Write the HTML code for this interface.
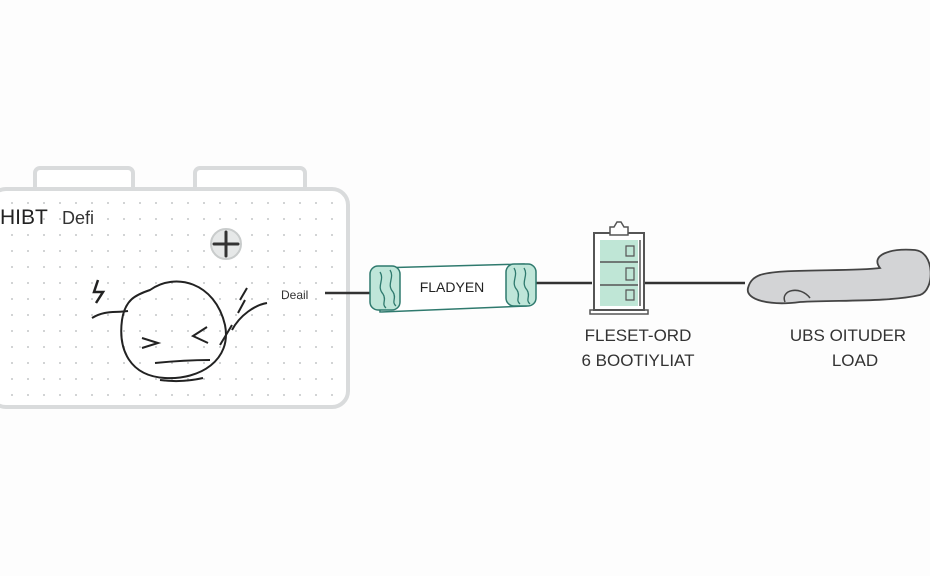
<!DOCTYPE html>
<html><head><meta charset="utf-8"><style>
html,body{margin:0;padding:0;background:#fdfdfd;}
svg{display:block}
text{font-family:"Liberation Sans",sans-serif;}
</style></head><body>
<svg width="930" height="576" viewBox="0 0 930 576" xmlns="http://www.w3.org/2000/svg">
<defs>
<pattern id="dots" x="4" y="3" width="16" height="16" patternUnits="userSpaceOnUse">
<circle cx="8" cy="8" r="1" fill="#c4c6c8"/>
</pattern>
</defs>
<rect width="930" height="576" fill="#fdfdfd"/>
<!-- battery terminals -->
<rect x="35" y="168" width="98" height="24" rx="5" fill="#fff" stroke="#d9dbdc" stroke-width="4"/>
<rect x="195" y="168" width="110" height="24" rx="5" fill="#fff" stroke="#d9dbdc" stroke-width="4"/>
<!-- battery body -->
<rect x="-10" y="189" width="358" height="218" rx="16" fill="#fff" stroke="#d9dbdc" stroke-width="4"/>
<rect x="0" y="196" width="340" height="206" fill="url(#dots)"/>
<text x="0" y="224" font-size="21" fill="#222">HIBT</text>
<text x="62" y="224" font-size="18" fill="#333">Defi</text>
<!-- plus -->
<circle cx="226" cy="244" r="15" fill="#e6e8e8" stroke="#c9cccc" stroke-width="2"/>
<path d="M214 244 H238 M226 232 V256" stroke="#333" stroke-width="3" stroke-linecap="round"/>
<!-- face -->
<path d="M150 290 C175 272,215 282,225 325 C232 360,200 380,165 378 C130 376,118 350,122 320 C125 300,135 295,150 290 Z" fill="none" stroke="#222" stroke-width="2"/>
<path d="M92 318 C105 310,115 313,128 311" fill="none" stroke="#222" stroke-width="2"/>
<path d="M98 280 L94 292 L103 292 L96 303" fill="none" stroke="#222" stroke-width="2.5"/>
<path d="M232 330 C240 315,255 305,267 303 M240 300 L247 288" fill="none" stroke="#222" stroke-width="2"/>
<path d="M220 345 L232 325 M238 313 L245 300" fill="none" stroke="#222" stroke-width="2"/>
<path d="M142 338 L158 343 L142 348" fill="none" stroke="#222" stroke-width="2"/>
<path d="M207 327 L193 336 L208 343" fill="none" stroke="#222" stroke-width="2"/>
<path d="M155 363 C175 361,195 360,210 360 M160 380 C175 382,190 381,203 378" fill="none" stroke="#222" stroke-width="2"/>
<text x="281" y="299" font-size="12" fill="#333">Deail</text>
<!-- connectors -->
<line x1="325" y1="293" x2="372" y2="293" stroke="#333" stroke-width="2.5"/>
<line x1="528" y1="283" x2="592" y2="283" stroke="#333" stroke-width="2.5"/>
<line x1="645" y1="283" x2="745" y2="283" stroke="#333" stroke-width="2.5"/>
<!-- scroll -->
<path d="M378 268 L524 264 L526 306 L380 312 Z" fill="#fff" stroke="#2f7a6e" stroke-width="1.5"/>
<rect x="370" y="266" width="30" height="44" rx="8" fill="#bfe6d9" stroke="#2f7a6e" stroke-width="1.5"/>
<rect x="506" y="264" width="30" height="42" rx="8" fill="#bfe6d9" stroke="#2f7a6e" stroke-width="1.5"/>
<path d="M380 272 c5 8,-4 14,3 22 c4 6,-2 10,3 14 M390 270 c5 8,-4 14,3 22 c4 6,-2 10,3 14 M514 268 c5 8,-4 14,3 22 c4 6,-2 10,3 14 M524 268 c5 8,-4 14,3 22 c4 6,-2 10,3 14" fill="none" stroke="#2f7a6e" stroke-width="1.3"/>
<text x="452" y="292" font-size="14" fill="#222" text-anchor="middle">FLADYEN</text>
<!-- clipboard -->
<rect x="590" y="310" width="58" height="4" fill="#fff" stroke="#555" stroke-width="1.5"/>
<rect x="594" y="233" width="50" height="77" fill="#fff" stroke="#555" stroke-width="2"/>
<rect x="600" y="240" width="38" height="66" fill="#bfe6d6"/>
<path d="M600 262 H638 M600 285 H638" stroke="#555" stroke-width="1.5"/>
<line x1="640" y1="240" x2="640" y2="306" stroke="#555" stroke-width="1.5"/>
<path d="M610 235 V227 H614 L617 222 H621 L624 227 H628 V235 Z" fill="#fff" stroke="#555" stroke-width="1.5"/>
<path d="M626 246 h8 v10 h-8 z M626 268 h8 v12 h-8 z M626 290 h8 v10 h-8 z" fill="none" stroke="#555" stroke-width="1.2"/>
<text x="638" y="341" font-size="17" fill="#333" text-anchor="middle">FLESET-ORD</text>
<text x="638" y="366" font-size="17" fill="#333" text-anchor="middle">6 BOOTIYLIAT</text>
<!-- cloud blob -->
<path d="M760 275 C780 268,850 272,880 268 C870 255,890 248,915 250 C935 252,935 290,920 295 C890 302,840 300,800 302 C770 306,745 300,748 288 C750 280,755 277,760 275 Z" fill="#d3d4d6" stroke="#444" stroke-width="1.8"/>
<path d="M785 302 C780 290,800 285,810 298" fill="none" stroke="#444" stroke-width="1.5"/>
<text x="848" y="341" font-size="17" fill="#333" text-anchor="middle">UBS OITUDER</text>
<text x="855" y="366" font-size="17" fill="#333" text-anchor="middle">LOAD</text>
</svg>
</body></html>
